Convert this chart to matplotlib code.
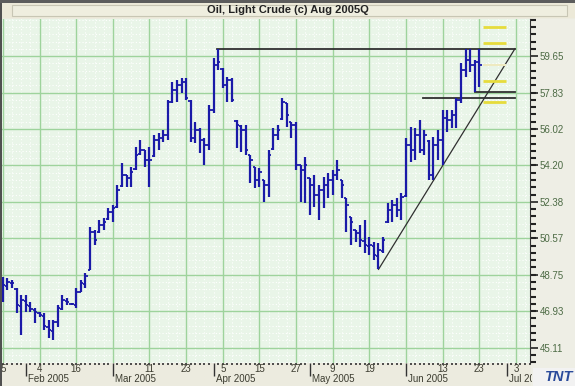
import matplotlib
matplotlib.use("Agg")
import matplotlib.pyplot as plt
from matplotlib.patches import Rectangle
from matplotlib.transforms import blended_transform_factory
import numpy as np

plt.rcParams['font.family'] = ['Liberation Sans', 'DejaVu Sans']

# daily OHLC, Aug 2005 crude, trading days from 25 Jan 2005 to 23 Jun 2005
highs = [48.62, 48.57, 48.47, 48.07, 47.72, 47.72, 47.37, 47.07, 46.87, 46.82,
         46.47, 46.47, 47.22, 47.72, 47.57, 47.32, 48.07, 48.47, 48.81, 51.11,
         50.96, 51.46, 51.56, 52.06, 52.21, 53.21, 54.31, 53.71, 54.11, 55.10,
         55.45, 54.96, 55.10, 55.70, 55.80, 55.95, 57.45, 58.35, 58.45, 58.55,
         58.55, 57.45, 56.35, 56.05, 55.55, 57.20, 59.55, 60.02, 59.05, 58.60,
         58.55, 56.45, 56.20, 56.20, 54.71, 54.11, 54.06, 53.46, 54.96, 56.05,
         56.20, 57.55, 57.30, 56.35, 56.35, 54.21, 54.61, 53.56, 53.71, 53.21,
         53.61, 53.81, 53.96, 54.46, 53.46, 52.56, 51.61, 50.96, 51.21, 51.46,
         50.61, 50.36, 50.31, 50.61, 52.31, 52.46, 52.56, 52.81, 55.55, 56.10,
         56.05, 56.45, 55.95, 55.45, 55.60, 55.95, 56.95, 56.95, 56.95, 57.55,
         59.30, 60.00, 60.00, 59.45, 60.02]
lows = [47.37, 47.97, 48.07, 46.82, 45.72, 46.87, 46.87, 46.32, 46.62, 45.97,
        45.57, 45.47, 46.12, 46.97, 47.22, 47.22, 47.07, 47.87, 48.07, 48.96,
        50.21, 50.81, 50.96, 51.46, 51.36, 52.06, 53.11, 53.11, 53.11, 53.96,
        54.71, 54.11, 53.11, 54.61, 54.96, 55.35, 55.45, 57.30, 57.35, 57.80,
        57.45, 55.35, 55.30, 54.81, 54.21, 54.96, 56.80, 58.95, 58.05, 57.35,
        57.35, 55.05, 54.86, 54.71, 53.31, 53.06, 53.11, 52.36, 52.61, 54.96,
        55.45, 56.45, 56.10, 55.55, 53.96, 52.36, 52.31, 51.71, 52.11, 51.46,
        52.06, 52.56, 52.71, 53.46, 52.56, 50.86, 50.21, 50.36, 50.11, 49.81,
        49.71, 49.46, 49.01, 49.81, 51.31, 51.36, 51.61, 51.46, 52.61, 54.36,
        54.46, 54.81, 54.71, 53.46, 53.46, 54.46, 54.21, 55.85, 56.05, 56.05,
        57.30, 58.60, 58.85, 57.88, 58.10]
opens = [47.60, 48.20, 48.35, 48.05, 47.20, 47.45, 47.20, 47.00, 46.85, 46.70,
         46.15, 45.95, 46.40, 47.05, 47.45, 47.30, 47.25, 47.90, 48.30, 49.00,
         50.85, 50.85, 51.20, 51.50, 51.85, 52.10, 53.15, 53.70, 53.55, 54.00,
         54.75, 54.95, 54.45, 54.65, 55.45, 55.55, 55.70, 57.35, 57.95, 58.20,
         58.35, 57.40, 55.55, 55.95, 55.45, 55.20, 56.95, 59.20, 59.00, 58.20,
         58.45, 56.40, 56.15, 55.95, 54.70, 54.10, 53.45, 53.45, 53.20, 55.00,
         55.70, 56.50, 57.30, 56.35, 56.20, 54.20, 53.95, 53.55, 53.20, 52.70,
         52.95, 53.20, 53.45, 53.70, 53.45, 52.55, 51.60, 50.95, 50.80, 50.45,
         50.20, 50.20, 49.70, 49.95, 51.35, 51.95, 52.20, 51.95, 52.65, 55.20,
         54.95, 55.70, 54.95, 55.40, 53.70, 55.20, 55.45, 56.55, 56.45, 56.70,
         57.45, 58.95, 59.45, 59.20, 59.35]
closes = [48.22, 48.37, 48.32, 47.22, 47.47, 47.22, 47.02, 46.87, 46.72, 46.17,
          45.97, 46.37, 47.07, 47.47, 47.37, 47.27, 47.87, 48.32, 48.67, 50.86,
          50.46, 51.21, 51.36, 51.86, 52.06, 52.96, 53.71, 53.56, 53.86, 54.71,
          54.96, 54.46, 54.46, 55.45, 55.55, 55.70, 57.35, 57.95, 58.20, 58.35,
          57.55, 55.55, 55.95, 55.45, 55.20, 56.95, 59.20, 59.35, 58.20, 58.45,
          57.45, 56.20, 55.95, 54.96, 54.46, 53.46, 53.86, 53.21, 54.71, 55.70,
          55.95, 57.35, 56.70, 56.20, 54.21, 53.96, 54.21, 53.21, 52.71, 52.96,
          53.21, 53.46, 53.71, 53.96, 53.21, 52.21, 51.36, 50.81, 50.46, 50.21,
          50.21, 49.71, 49.96, 50.46, 51.96, 52.21, 51.96, 52.61, 55.20, 54.96,
          55.70, 54.96, 55.70, 53.71, 55.20, 55.45, 56.55, 56.45, 56.70, 57.45,
          58.95, 59.45, 59.20, 59.35, 59.20]

price_ticks = [45.11, 46.93, 48.75, 50.57, 52.38, 54.20, 56.02, 57.83, 59.65]
grid_days = [0, 8, 16, 24, 32, 40, 48, 56, 64, 72, 80, 88, 96, 104, 112]
day_pos = [0, 8, 16, 32, 40, 48, 56, 64, 72, 80, 96, 104, 112]
day_labels = ['5', '4', '16', '11', '23', '5', '15', '27', '9', '19', '13', '23', '3']
month_pos = [5, 24, 46, 67, 88, 110]
month_labels = ['Feb 2005', 'Mar 2005', 'Apr 2005', 'May 2005', 'Jun 2005', 'Jul 2005']

# drawn study lines: (x0, y0, x1, y1)
study_lines = [(46.7, 60.02, 111.8, 60.02),
               (82, 49.01, 111.8, 60.02),
               (103, 57.88, 111.8, 57.88),
               (91.7, 57.55, 111.8, 57.55)]
target_levels = [61.10, 60.30, 58.40, 57.35]
faint_levels = [59.20]

fig = plt.figure(figsize=(5.75, 3.86), dpi=100)
W, H = 575, 386

def fx(px):
    return px / W

def fy(py):
    return 1 - py / H

# frame pieces
fig.patches.append(Rectangle((0, 0), 1, 1, transform=fig.transFigure,
                             facecolor='#ecebdf', edgecolor='none', zorder=-5))
fig.patches.append(Rectangle((0, fy(3)), 1, 3 / H, transform=fig.transFigure,
                             facecolor='#5c5c5c', edgecolor='none', zorder=-4))
fig.patches.append(Rectangle((0, fy(18)), 1, 15 / H, transform=fig.transFigure,
                             facecolor='#ece9d8', edgecolor='none', zorder=-4))
fig.patches.append(Rectangle((fx(12), fy(16)), fx(555), 11 / H, transform=fig.transFigure,
                             facecolor='#efeedf', edgecolor='#c8c6b4', lw=0.8, zorder=-3))
fig.patches.append(Rectangle((0, 0), fx(1.5), fy(3), transform=fig.transFigure,
                             facecolor='#505050', edgecolor='none', zorder=5))
fig.patches.append(Rectangle((fx(531), 0), fx(44), fy(19), transform=fig.transFigure,
                             facecolor='#eeeee5', edgecolor='none', zorder=-3))

fig.text(0.5, fy(10), 'Oil, Light Crude (c) Aug 2005Q', ha='center', va='center',
         fontsize=8, fontweight='bold', color='#222222')

ax = fig.add_axes([fx(2), fy(363), fx(528), (363 - 19) / H])
ax.set_facecolor('#e9f5e8')
ax.set_xlim(-0.2, 115.08)
ax.set_ylim(44.34, 61.50)

# minor dotted grid
minor_y = np.arange(price_ticks[0] - 1.8175, 62, 1.8175 / 5)
minor_x = np.arange(0, 116, 2)
for v in minor_y:
    ax.axhline(v, color='white', lw=0.8, ls=(0, (1, 2)), zorder=0)
for v in minor_x:
    ax.axvline(v, color='white', lw=0.8, ls=(0, (1, 2)), zorder=0)
# major grid
for v in price_ticks:
    ax.axhline(v, color='#9ed39c', lw=1.0, zorder=1)
for v in grid_days:
    ax.axvline(v, color='#9ed39c', lw=1.0, zorder=1)

x = np.arange(len(highs))
bar_col = '#1a1aa8'
ax.vlines(x, lows, highs, color=bar_col, lw=1.6, zorder=4)
ax.hlines(opens, x - 0.5, x, color=bar_col, lw=1.3, zorder=4)
ax.hlines(closes, x, x + 0.5, color=bar_col, lw=1.3, zorder=4)

for (x0, y0, x1, y1) in study_lines:
    lw = 0.9 if y0 != y1 else 1.3
    ax.plot([x0, x1], [y0, y1], color='#303030', lw=lw, zorder=3)
for v in target_levels:
    ax.plot([104.8, 109.8], [v, v], color='#e6dc3c', lw=2.0, zorder=3, solid_capstyle='butt')
for v in faint_levels:
    ax.plot([104.8, 109.8], [v, v], color='#eeeac0', lw=1.5, zorder=3, solid_capstyle='butt')

for s in ['top', 'left']:
    ax.spines[s].set_visible(False)
ax.spines['right'].set_color('#333333')
ax.spines['bottom'].set_visible(False)

# right price axis
ax.yaxis.tick_right()
ax.set_yticks(price_ticks)
ax.set_yticklabels(['%.2f' % v for v in price_ticks])
ax.set_yticks(minor_y[(minor_y > 44.34) & (minor_y < 61.5)], minor=True)
ax.tick_params(axis='y', which='major', direction='out', length=6, width=1.2,
               color='#222222', labelsize=7, labelcolor='#4d6b45', pad=1)
ax.tick_params(axis='y', which='minor', direction='out', length=4, width=1.5,
               color='#222222')

# bottom date axis
ax.set_xticks(month_pos)
ax.set_xticklabels([''] * len(month_pos))
ax.set_xticks(np.arange(0, 116), minor=True)
ax.tick_params(axis='x', which='major', direction='out', length=9, width=1.0,
               color='#333333')
ax.tick_params(axis='x', which='minor', direction='out', length=1.5, width=1.2,
               color='#333333')

# the logo box hides the end of the last month label
label_clip = Rectangle((0, 0), fx(532), 1, transform=fig.transFigure,
                       facecolor='none', edgecolor='none')
fig.patches.append(label_clip)

tr = blended_transform_factory(ax.transData, fig.transFigure)
for p, lab in zip(day_pos, day_labels):
    fig.text(p, fy(369.5), lab, transform=tr, ha='center', va='center', fontsize=7,
             color='#3c3c30')
for p, lab in zip(month_pos, month_labels):
    t = fig.text(p + 0.5, fy(379.5), lab, transform=tr, ha='left', va='center', fontsize=7,
                 color='#3c3c30')
    t.set_clip_path(label_clip)

# logo
fig.patches.append(Rectangle((fx(533), 0), fx(42), 18 / H, transform=fig.transFigure,
                             facecolor='#f2f2f2', edgecolor='none', zorder=10))
fig.text(fx(573), fy(377), 'TNT', ha='right', va='center', fontsize=10.5,
         fontweight='bold', style='italic', color='#2a4a9a', zorder=11)

fig.savefig('out.png', dpi=100)
